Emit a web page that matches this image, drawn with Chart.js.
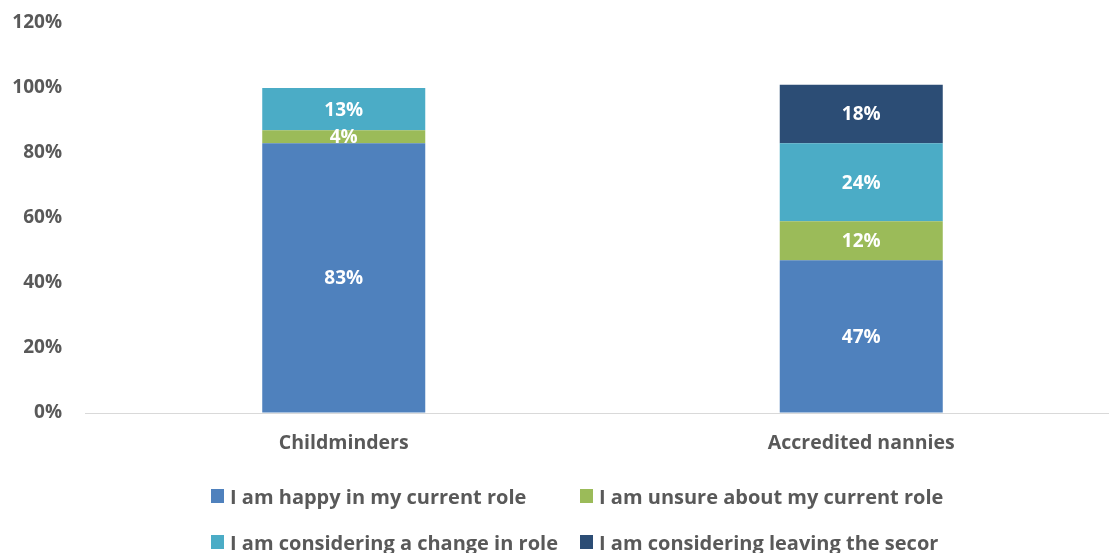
<!DOCTYPE html>
<html>
<head>
<meta charset="utf-8">
<script src="https://cdn.jsdelivr.net/npm/chart.js@4"></script>
<style>
  html, body { margin: 0; padding: 0; overflow: hidden; background: #fff; }
  #caja { position: relative; width: 1109px; height: 553px; overflow: hidden; }
  #grafico { position: absolute; left: 0; top: 0; }
  #leyenda { position: absolute; left: 211px; top: 483px; font-family: "Open Sans", sans-serif; font-weight: bold; font-size: 20px; color: #595959; }
  .fila { display: flex; height: 46px; }
  .item { display: flex; align-items: flex-start; white-space: nowrap; }
  .item.c0 { width: 369px; }
  .cuadro { width: 13px; height: 14px; margin-top: 6px; margin-right: 6px; }
</style>
</head>
<body>
<div id="caja">
  <canvas id="grafico" width="1120" height="553"></canvas>
  <div id="leyenda"></div>
</div>
<script>
// categorias y porcentajes por respuesta
const categorias = ["Childminders", "Accredited nannies"];
const series = [
  "I am happy in my current role",
  "I am unsure about my current role",
  "I am considering a change in role",
  "I am considering leaving the secor"
];
const feliz = [83, 47];
const inseguro = [4, 12];
const cambio = [13, 24];
const dejar = [0, 18];
const colores = ["#4F81BD", "#9BBB59", "#4BACC6", "#2C4D75"];
const ticksY = [0, 20, 40, 60, 80, 100, 120];

const valores = [feliz, inseguro, cambio, dejar];
var datasets = [];
for (let i = 0; i < series.length; i++) {
  datasets.push({
    label: series[i],
    data: valores[i],
    backgroundColor: colores[i],
    borderWidth: 0,
    categoryPercentage: 1,
    barPercentage: 0.315
  });
}

// etiquetas blancas dentro de cada segmento
const etiquetasBarras = {
  id: "etiquetasBarras",
  afterDatasetsDraw(chart) {
    const ctx = chart.ctx;
    ctx.save();
    ctx.fillStyle = "#ffffff";
    ctx.font = "bold 19px 'Open Sans'";
    ctx.textAlign = "center";
    ctx.textBaseline = "middle";
    chart.data.datasets.forEach((ds, i) => {
      const meta = chart.getDatasetMeta(i);
      meta.data.forEach((bar, j) => {
        const v = ds.data[j];
        if (!v) return;
        ctx.fillText(v + "%", bar.x, (bar.y + bar.base) / 2 + 1);
      });
    });
    ctx.restore();
  }
};

new Chart("grafico", {
  type: "bar",
  data: { labels: categorias, datasets: datasets },
  plugins: [etiquetasBarras],
  options: {
    responsive: false,
    animation: false,
    layout: { padding: { top: 23, right: 0, left: 0, bottom: 0 } },
    plugins: {
      legend: { display: false },
      tooltip: { enabled: false }
    },
    scales: {
      x: {
        stacked: true,
        grid: { display: false, drawTicks: false },
        border: { display: true, color: "#d9d9d9", width: 1 },
        ticks: {
          color: "#595959",
          padding: 19,
          font: { family: "Open Sans", weight: "bold", size: 19.5 }
        },
        afterFit: (s) => { s.height = 140; }
      },
      y: {
        stacked: true,
        min: 0,
        max: 120,
        // marcas invisibles para separar las etiquetas del eje
        grid: { display: true, drawOnChartArea: false, drawTicks: true, tickLength: 23, tickColor: "rgba(0,0,0,0)", color: "rgba(0,0,0,0)" },
        border: { display: false },
        afterBuildTicks: (s) => { s.ticks = ticksY.map((v) => ({ value: v })); },
        ticks: {
          color: "#595959",
          padding: 0,
          font: { family: "Open Sans", weight: "bold", size: 19 },
          callback: (v) => v + "%"
        },
        afterFit: (s) => { s.width = 85; }
      }
    }
  }
});

// leyenda en dos filas
var html = "";
for (let f = 0; f < 2; f++) {
  html += "<div class='fila'>";
  for (let c = 0; c < 2; c++) {
    const k = f * 2 + c;
    html += "<div class='item c" + c + "'><span class='cuadro' style='background:" + colores[k] + "'></span>" + series[k] + "</div>";
  }
  html += "</div>";
}
document.getElementById("leyenda").innerHTML = html;
</script>
</body>
</html>
